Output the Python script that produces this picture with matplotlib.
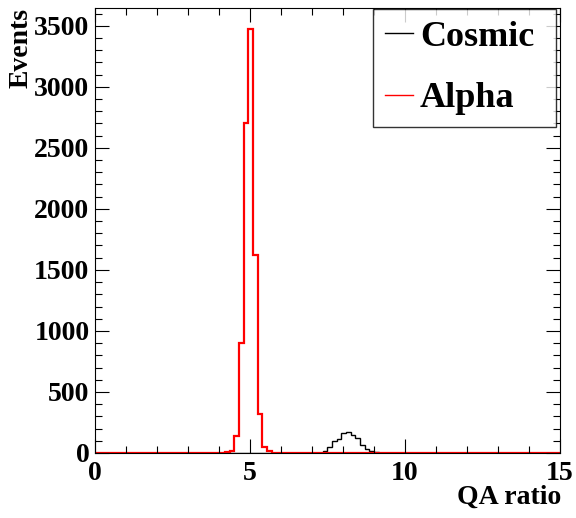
import numpy as np
import matplotlib
matplotlib.use("Agg")
import matplotlib.pyplot as plt
from matplotlib.ticker import MultipleLocator

# histogram binning: 100 bins from 0 to 15
n_bins = 100
x_min, x_max = 0.0, 15.0

# non-empty bins (first bin low edge + counts)
cosmic_start = 7.20
cosmic_counts = [3, 19, 52, 96, 112, 164, 172, 145, 123, 68, 30, 14, 8, 3]

alpha_start = 4.20
alpha_counts = [6, 20, 142, 905, 2705, 3470, 1622, 316, 47, 14, 3]

edges = np.linspace(x_min, x_max, n_bins + 1)
width = (x_max - x_min) / n_bins


def fill_hist(start, counts):
    h = np.zeros(n_bins)
    i0 = int(round((start - x_min) / width))
    h[i0:i0 + len(counts)] = counts
    return h


cosmic = fill_hist(cosmic_start, cosmic_counts)
alpha = fill_hist(alpha_start, alpha_counts)

plt.rcParams['font.family'] = ['Liberation Serif', 'DejaVu Serif']
plt.rcParams['font.weight'] = 'bold'

fig = plt.figure(figsize=(5.76, 5.18), dpi=100)
ax = fig.add_axes([0.165, 0.1255, 0.807, 0.859])

ax.stairs(cosmic, edges, color='black', linewidth=1.0, label='Cosmic')
ax.stairs(alpha, edges, color='red', linewidth=1.6, label='Alpha')

ax.set_xlim(x_min, x_max)
ax.set_ylim(0, 3645)

ax.xaxis.set_major_locator(MultipleLocator(5))
ax.xaxis.set_minor_locator(MultipleLocator(1))
ax.yaxis.set_major_locator(MultipleLocator(500))
ax.yaxis.set_minor_locator(MultipleLocator(100))
ax.tick_params(which='both', direction='in', top=True, right=True,
               labelsize=20, width=0.8)
ax.tick_params(which='major', length=10)
ax.tick_params(which='minor', length=5)
ax.tick_params(axis='x', pad=6)
ax.tick_params(axis='y', pad=4)
for lab in ax.get_xticklabels() + ax.get_yticklabels():
    lab.set_fontweight('bold')
for s in ax.spines.values():
    s.set_linewidth(0.8)

fig.text(0.975, 0.04, 'QA ratio', ha='right', va='center', fontsize=20,
         fontweight='bold')
fig.text(0.036, 0.985, 'Events', ha='center', va='top', rotation=90,
         fontsize=20, fontweight='bold')

leg = ax.legend(loc='upper left', bbox_to_anchor=(0.598, 0.735, 0.393, 0.263),
                mode='expand', fontsize=26, frameon=True, fancybox=False,
                edgecolor='black', borderpad=0.32, labelspacing=0.78,
                handlelength=0.8, handletextpad=0.18, borderaxespad=0)
leg.get_frame().set_linewidth(1.0)
for line in leg.get_lines():
    line.set_linewidth(1.0)
for t in leg.get_texts():
    t.set_fontweight('bold')

fig.savefig('out.png', dpi=100)
